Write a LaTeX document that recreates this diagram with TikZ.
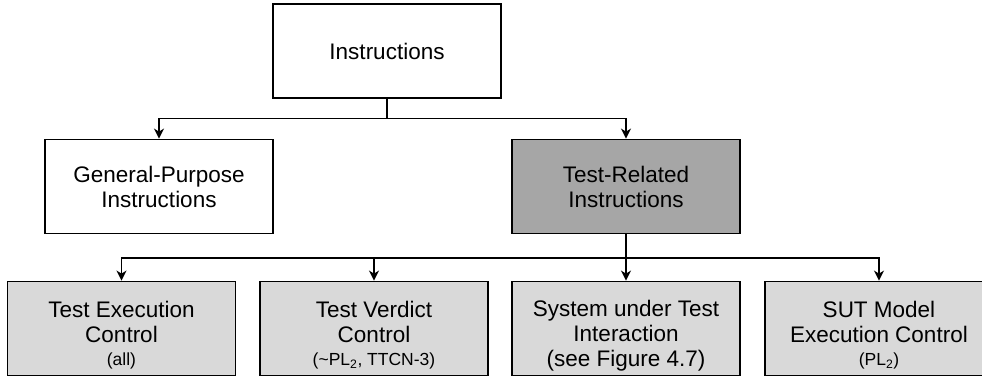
\documentclass[tikz,border=0pt]{standalone}
\usepackage{fontspec}
\setmainfont{Liberation Sans}
\usetikzlibrary{arrows.meta}
\definecolor{darkfill}{RGB}{166,166,166}
\definecolor{lightfill}{RGB}{217,217,217}
\newcommand\boxfont{\fontsize{22.5}{25}\selectfont}
\newcommand\notefont{\fontsize{17.5}{20}\selectfont}
% taller first line, pushes the text block of a box a little lower
\newcommand\lowered{\rule{0pt}{30pt}}
\begin{document}
\begin{tikzpicture}[x=1pt,y=-1pt,
  box/.style={draw=black, line width=1.8pt, minimum width=228pt,
    minimum height=94pt, align=center, inner sep=0pt, font=\boxfont},
  upper/.style={box, fill=white},
  dark/.style={box, fill=darkfill},
  light/.style={box, fill=lightfill},
  link/.style={line width=1.8pt, -{Stealth[length=10pt,width=10pt,inset=3pt]}}]
  \useasboundingbox (0,0) rectangle (982,376);
  \clip (0,0) rectangle (982,376);

  % top level
  \node[upper] (instr) at (387,51) {Instructions};

  % second level
  \node[upper] (gp) at (159,186.5) {General-Purpose\\Instructions};
  \node[dark]  (tr) at (626,186.5) {Test-Related\\Instructions};

  % third level
  \node[light] (tec) at (121.5,328.5)
    {\lowered Test Execution\\Control\\[-2pt]{\notefont (all)}};
  \node[light] (tvc) at (374,328.5)
    {\lowered Test Verdict\\Control\\[-2pt]{\notefont (\textasciitilde PL\textsubscript{2}, TTCN-3)}};
  \node[light] (sut) at (626,328.5)
    {\lowered System under Test\\Interaction\\(see Figure 4.7)};
  \node[light] (sme) at (879,328.5)
    {\lowered SUT Model\\Execution Control\\[-2pt]{\notefont (PL\textsubscript{2})}};

  % connectors
  \draw[link] (instr.south) -- ++(0,19.5) -| (gp.north);
  \draw[link] (instr.south) -- ++(0,19.5) -| (tr.north);
  \draw[link] (tr.south) -- ++(0,23.5) -| (tec.north);
  \draw[link] (tr.south) -- ++(0,23.5) -| (tvc.north);
  \draw[link] (tr.south) -- (sut.north);
  \draw[link] (tr.south) -- ++(0,23.5) -| (sme.north);
\end{tikzpicture}
\end{document}
